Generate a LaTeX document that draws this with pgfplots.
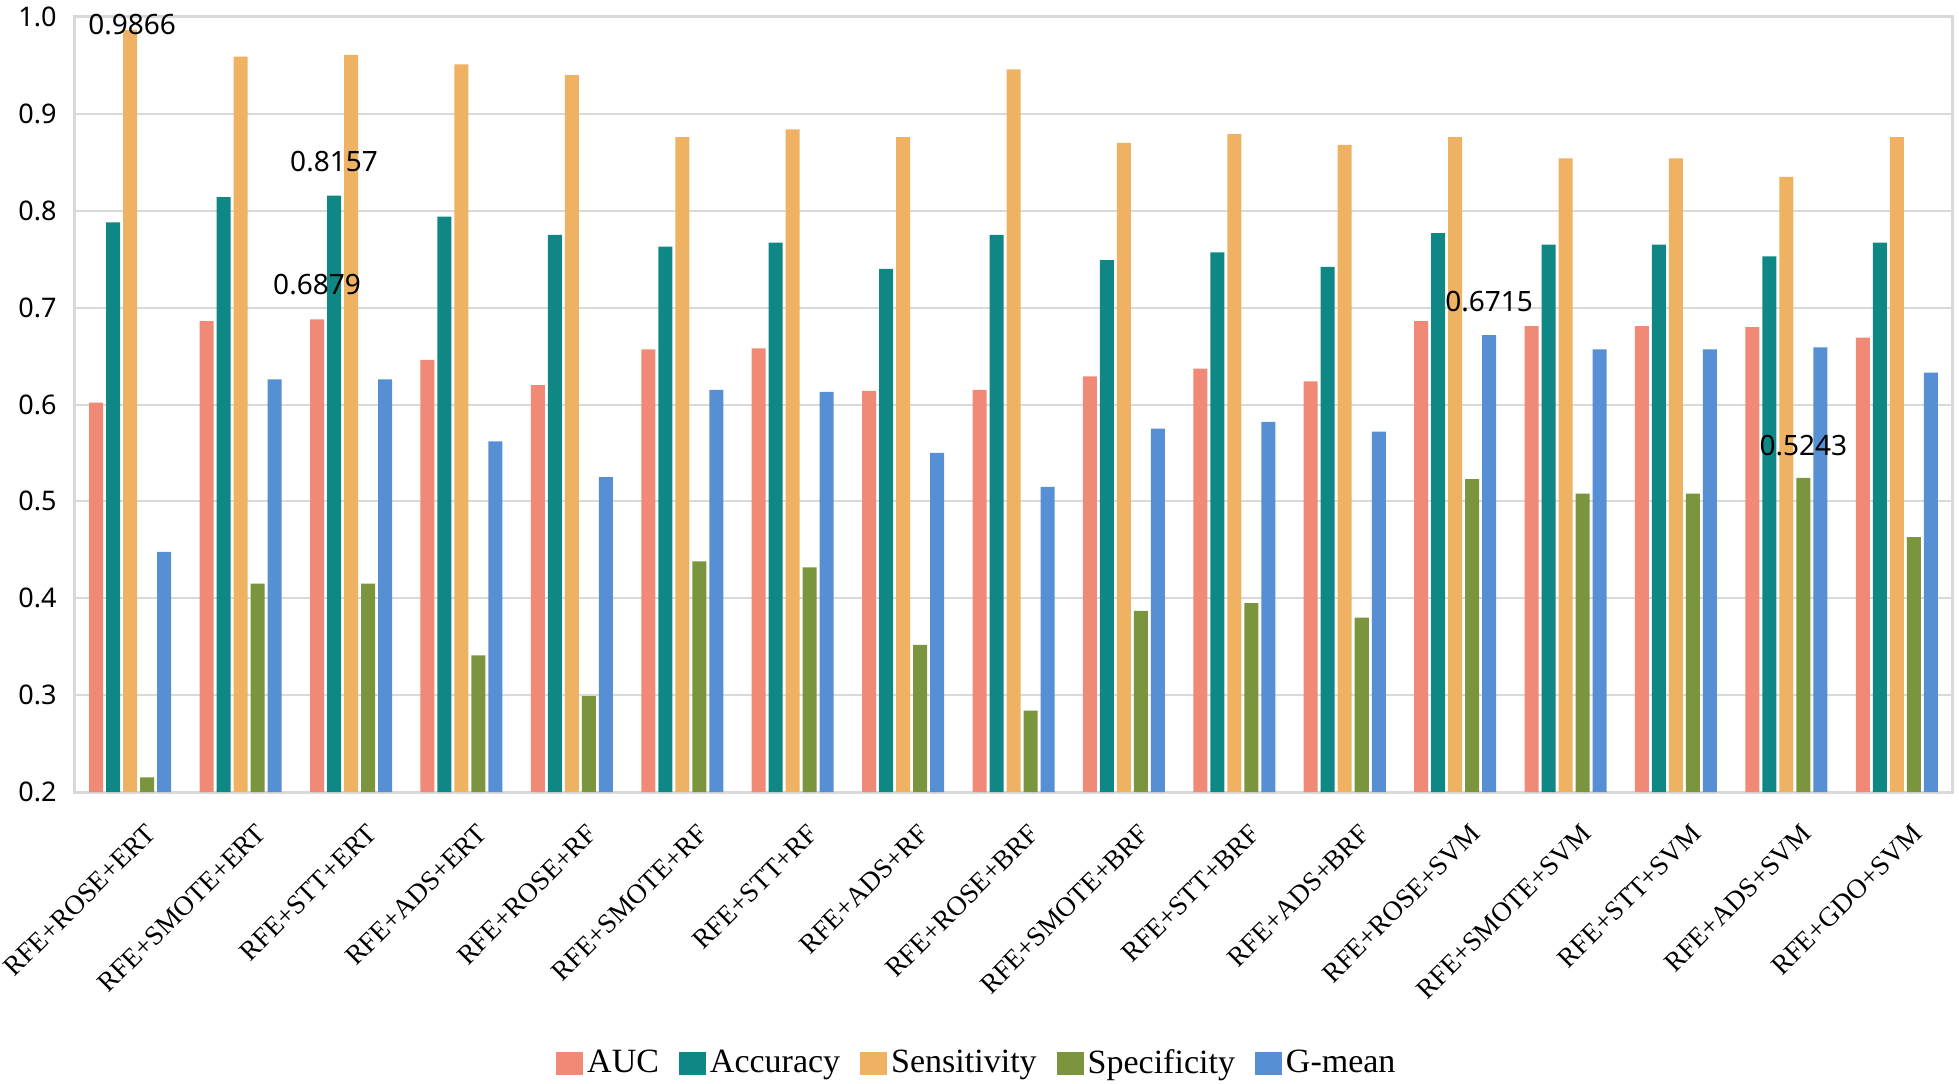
\documentclass[border=0pt]{standalone}
\usepackage{pgfplots}
\pgfplotsset{compat=1.18}
\usepackage{pgfplotstable}
\usepackage{fontspec}
\setmainfont{Liberation Serif}
\newfontfamily\numfont{Noto Sans}

\definecolor{cauc}{HTML}{F08A76}
\definecolor{cacc}{HTML}{0F8885}
\definecolor{csens}{HTML}{EFB262}
\definecolor{cspec}{HTML}{7A953D}
\definecolor{cgm}{HTML}{578FD5}
\definecolor{gridgray}{HTML}{D9D9D9}

\pgfplotstableread{
x auc acc sens spec gmean
0 0.602 0.788 0.9866 0.215 0.448
1 0.686 0.814 0.959 0.415 0.626
2 0.6879 0.8157 0.961 0.415 0.626
3 0.646 0.794 0.951 0.341 0.562
4 0.620 0.775 0.940 0.299 0.525
5 0.657 0.763 0.876 0.438 0.615
6 0.658 0.767 0.884 0.432 0.613
7 0.614 0.740 0.876 0.352 0.550
8 0.615 0.775 0.946 0.284 0.515
9 0.629 0.749 0.870 0.387 0.575
10 0.637 0.757 0.879 0.395 0.582
11 0.624 0.742 0.868 0.380 0.572
12 0.686 0.777 0.876 0.523 0.6715
13 0.681 0.765 0.854 0.508 0.657
14 0.681 0.765 0.854 0.508 0.657
15 0.680 0.753 0.835 0.5243 0.659
16 0.669 0.767 0.876 0.463 0.633
}\scores

\begin{document}
\begin{tikzpicture}
\path[use as bounding box] (-37.5pt,-145.5pt) rectangle (942pt,396pt);
\begin{axis}[
    scale only axis,
    width=938.5pt, height=387.5pt,
    ybar=1.5pt,
    bar width=7pt,
    xmin=-0.5, xmax=16.5,
    ymin=0.2, ymax=1.0,
    ytick={0.2,0.3,...,1.0},
    yticklabel style={/pgf/number format/fixed, /pgf/number format/fixed zerofill,
        /pgf/number format/precision=1, /pgf/number format/assume math mode=true,
        font=\numfont\fontsize{13.5}{16}\selectfont, anchor=east, inner sep=0pt, xshift=-9pt},
    xtick=data,
    xticklabels={RFE+ROSE+ERT, RFE+SMOTE+ERT, RFE+STT+ERT, RFE+ADS+ERT,
        RFE+ROSE+RF, RFE+SMOTE+RF, RFE+STT+RF, RFE+ADS+RF,
        RFE+ROSE+BRF, RFE+SMOTE+BRF, RFE+STT+BRF, RFE+ADS+BRF,
        RFE+ROSE+SVM, RFE+SMOTE+SVM, RFE+STT+SVM, RFE+ADS+SVM, RFE+GDO+SVM},
    xticklabel style={font=\fontsize{13.7}{16}\selectfont, xshift=7pt, yshift=-15pt,
        rotate=45, anchor=north east, inner sep=0pt},
    major tick length=0pt,
    axis line style={gridgray, line width=1.5pt},
    ymajorgrids=true,
    grid style={gridgray, line width=1pt},
    legend columns=-1,
    legend style={at={(0.481,-0.3497)}, anchor=center, draw=none,
        font=\fontsize{17}{20}\selectfont,
        /tikz/every even column/.append style={column sep=8pt}},
    legend image code/.code={\fill[#1] (0pt,-5.75pt) rectangle (13.5pt,5.75pt);},
]
\addplot[fill=cauc, draw=none] table[x=x, y=auc] {\scores};
\addplot[fill=cacc, draw=none] table[x=x, y=acc] {\scores};
\addplot[fill=csens, draw=none] table[x=x, y=sens] {\scores};
\addplot[fill=cspec, draw=none] table[x=x, y=spec] {\scores};
\addplot[fill=cgm, draw=none] table[x=x, y=gmean] {\scores};
\legend{AUC, Accuracy, Sensitivity, Specificity, G-mean}

\coordinate (la) at (axis cs:0,0.9866);
\coordinate (lb) at (axis cs:2,0.8157);
\coordinate (lc) at (axis cs:2,0.6879);
\coordinate (ld) at (axis cs:12,0.6715);
\coordinate (le) at (axis cs:15,0.5243);
\end{axis}
\tikzset{lbl/.style={font=\numfont\fontsize{14}{16}\selectfont, anchor=south, inner sep=0pt}}
\node[lbl, xshift=1pt, yshift=-2.5pt] at (la) {0.9866};
\node[lbl, xshift=-8.5pt, yshift=11.5pt] at (lb) {0.8157};
\node[lbl, xshift=-17pt, yshift=12pt] at (lc) {0.6879};
\node[lbl, xshift=17pt, yshift=11.5pt] at (ld) {0.6715};
\node[lbl, xshift=8.5pt, yshift=11pt] at (le) {0.5243};
\end{tikzpicture}
\end{document}
